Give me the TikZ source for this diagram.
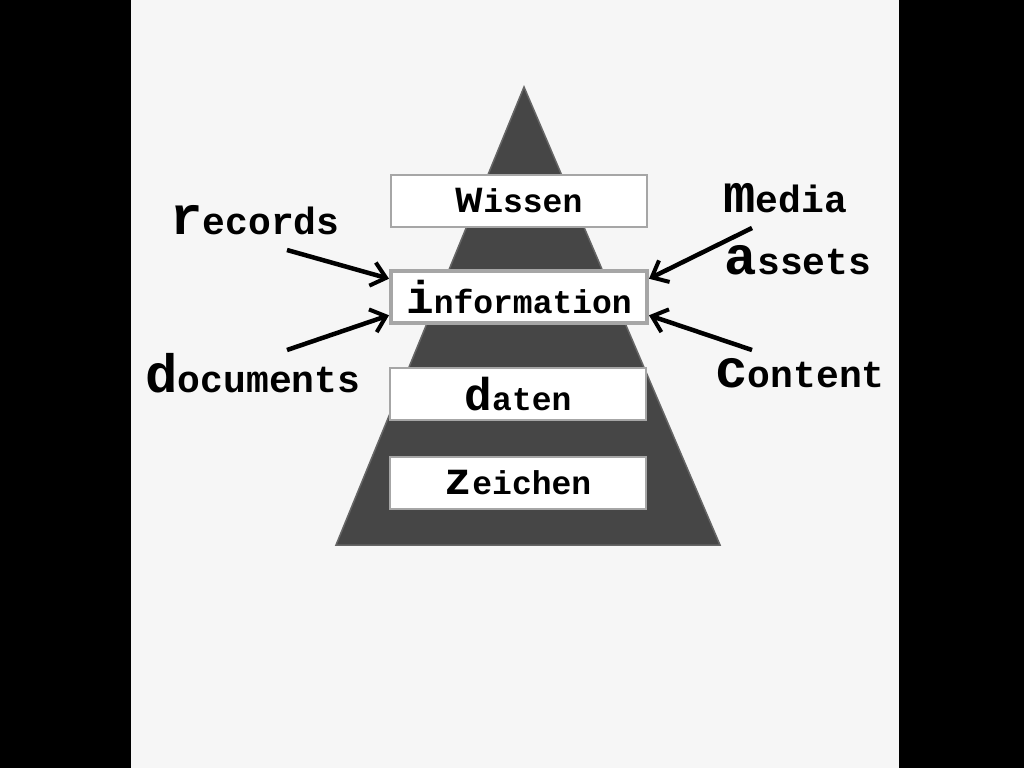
\documentclass[tikz,border=0pt]{standalone}
\usepackage{fontspec}
\setmonofont{Liberation Mono}
\usetikzlibrary{arrows.meta}
\begin{document}
\begin{tikzpicture}[x=1pt,y=-1pt,
  box/.style={draw=gray!70,line width=2pt,fill=white,minimum width=256pt,minimum height=52pt,inner sep=0pt,font=\ttfamily\bfseries\fontsize{33}{33}\selectfont},
  lab/.style={font=\ttfamily\bfseries\fontsize{38}{38}\selectfont,inner sep=0pt},
  arr/.style={line width=4.5pt,-{Straight Barb[length=14pt,width=24pt,line width=4pt]}}]
\useasboundingbox (0,0) rectangle (1024,768);
\fill[black] (0,0) rectangle (1024,768);
\fill[gray!7] (131,0) rectangle (899,768);
\fill[gray!55!black,draw=gray!80!black,line width=1.5pt] (524,87) -- (720,545) -- (336,545) -- cycle;
\node[box] (w) at (519,201) {{\fontsize{46}{46}\selectfont w}issen};
\node[box,line width=4pt] (i) at (519,297) {{\fontsize{46}{46}\selectfont i}nformation};
\node[box] (d) at (518,394) {{\fontsize{46}{46}\selectfont d}aten};
\node[box] (z) at (518,483) {{\fontsize{46}{46}\selectfont z}eichen};
\node[lab] (r) at (255,220) {{\fontsize{54}{54}\selectfont r}ecords};
\node[lab] (doc) at (253,373) {{\fontsize{54}{54}\selectfont d}ocuments};
\node[lab] (m) at (785,198) {{\fontsize{54}{54}\selectfont m}edia};
\node[lab] (a) at (798,260) {{\fontsize{54}{54}\selectfont a}ssets};
\node[lab] (c) at (800,373) {{\fontsize{54}{54}\selectfont c}ontent};
\coordinate (r0) at (287,250); \coordinate (d0) at (287,350);
\coordinate (m0) at (752,228); \coordinate (c0) at (752,350);
\draw[arr] (r0) -- (i.172);
\draw[arr] (d0) -- (i.188);
\draw[arr] (m0) -- (i.8);
\draw[arr] (c0) -- (i.352);
\end{tikzpicture}
\end{document}
